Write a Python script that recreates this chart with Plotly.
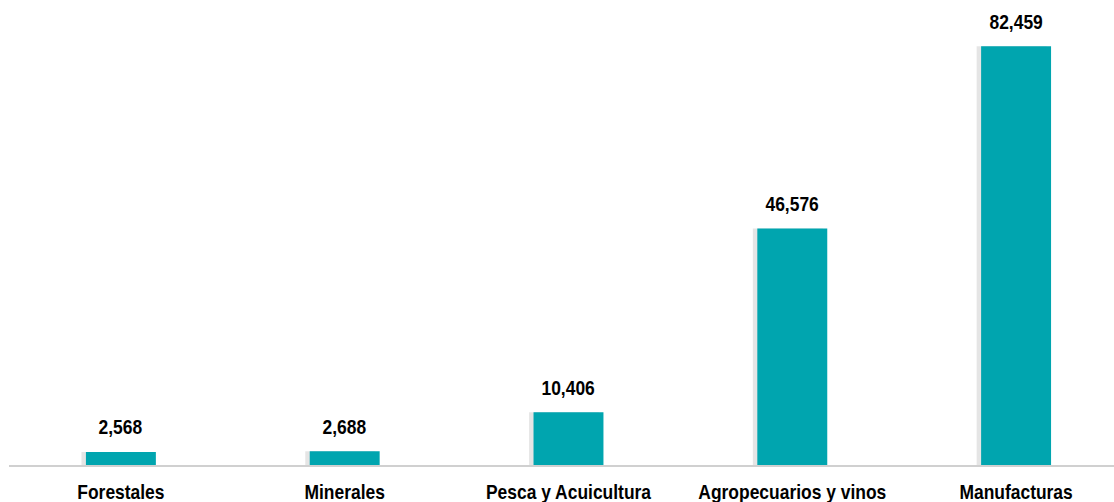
import plotly.graph_objects as go

categories = ["Forestales", "Minerales", "Pesca y Acuicultura", "Agropecuarios y vinos", "Manufacturas"]
values = [2568, 2688, 10406, 46576, 82459]
labels = ["2,568", "2,688", "10,406", "46,576", "82,459"]

FONT = "Liberation Sans, Arial, sans-serif"
TEAL = "#00A5AF"

fig = go.Figure()
# soft shadow
fig.add_trace(go.Bar(x=categories, y=values, width=0.3125, offset=-0.1563 - 0.02,
                     marker=dict(color="rgba(0,0,0,0.10)", line=dict(width=0)),
                     hoverinfo="skip", showlegend=False))
fig.add_trace(go.Bar(x=categories, y=values, width=0.3125,
                     marker=dict(color=TEAL, line=dict(width=0)), showlegend=False))

for c, v, t in zip(categories, values, labels):
    fig.add_annotation(x=c, y=v, text=t, showarrow=False, yshift=25,
                       font=dict(family=FONT, size=21, color="#000000", weight="bold"))

fig.update_layout(
    width=1114, height=502,
    margin=dict(l=9, r=0, t=10, b=37),
    plot_bgcolor="white", paper_bgcolor="white",
    barmode="overlay",
    xaxis=dict(range=[-0.5, 4.4375], showgrid=False, showline=True, linecolor="#D0D0D0",
               linewidth=2, ticks="outside", ticklen=7, tickcolor="rgba(0,0,0,0)",
               automargin=False,
               tickfont=dict(family=FONT, size=21, color="#000000", weight="bold"),
               tickvals=categories, ticktext=categories),
    yaxis=dict(range=[0, 89600], showgrid=False, showticklabels=False, zeroline=False,
               showline=False, automargin=False),
)

post = """
document.body.style.margin='0';
document.body.style.overflow='hidden';
function narrow(){
  var gd=document.getElementById('{plot_id}');
  var ts=gd.querySelectorAll('g.xtick text, g.annotation-text-g text');
  ts.forEach(function(t){
    if(t.getAttribute('data-narrowed'))return;
    var L=t.getComputedTextLength();
    if(L>0){t.setAttribute('textLength',(L*0.83).toFixed(2));
      t.setAttribute('lengthAdjust','spacingAndGlyphs');
      t.setAttribute('data-narrowed','1');}
  });
}
narrow();
"""

fig.write_html("out.html", config={"displayModeBar": False}, post_script=post)
